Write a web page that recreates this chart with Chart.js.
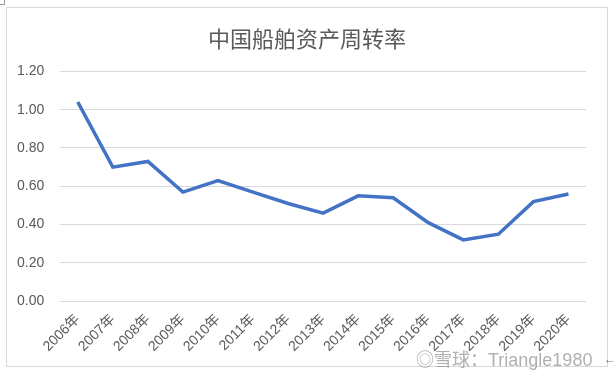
<!DOCTYPE html>
<html>
<head>
<meta charset="utf-8">
<script src="https://cdn.jsdelivr.net/npm/chart.js@4"></script>
<style>
  body { margin: 0; background: #fff; width: 615px; height: 378px; position: relative; overflow: hidden; }
  #box { position: absolute; left: 6px; top: 7px; width: 600px; height: 358px; border: 1px solid #d9d9d9; }
  #wm { position: absolute; left: 416px; top: 345px; font: 18px 'Liberation Sans', 'Noto Sans CJK SC', sans-serif; color: rgba(150,150,150,0.75); white-space: nowrap; }
  #arrow { position: absolute; left: 604px; top: 352px; font: 12px 'Liberation Sans', sans-serif; color: #777; }
  #mark { position: absolute; left: 0; top: 0; width: 4px; height: 4px; border-right: 1px solid #999; border-bottom: 1px solid #999; }
</style>
</head>
<body>
<div id="mark"></div>
<div id="box"><canvas id="c"></canvas></div>
<div id="wm">◎雪球：Triangle1980</div>
<div id="arrow">←</div>
<script>
const years = ['2006年','2007年','2008年','2009年','2010年','2011年','2012年','2013年','2014年','2015年','2016年','2017年','2018年','2019年','2020年'];
const turnover = [1.04, 0.70, 0.73, 0.57, 0.63, 0.57, 0.51, 0.46, 0.55, 0.54, 0.41, 0.32, 0.35, 0.52, 0.56];
const yTicks = [0, 0.2, 0.4, 0.6, 0.8, 1.0, 1.2];

const font = "'Liberation Sans', 'Noto Sans CJK SC', sans-serif";
const ctx = document.getElementById('c').getContext('2d');
new Chart(ctx, {
    type: 'line',
    data: {
        labels: years,
        datasets: [{
            label: '中国船舶资产周转率',
            data: turnover,
            borderColor: '#4472C4',
            borderWidth: 3.5,
            pointRadius: 0,
            tension: 0,
            fill: false
        }]
    },
    options: {
        responsive: true,
        maintainAspectRatio: false,
        animation: false,
        layout: { padding: { left: 0, right: 0, top: 9, bottom: 9 } },
        plugins: {
            legend: { display: false },
            tooltip: { enabled: false },
            title: {
                display: true,
                text: '中国船舶资产周转率',
                color: '#595959',
                font: { family: "'Noto Sans CJK SC', sans-serif", size: 22, weight: 'normal' },
                padding: { top: 8, bottom: 20 }
            }
        },
        scales: {
            x: {
                offset: true,
                grid: { display: false },
                border: { display: false },
                afterFit: scale => { scale.paddingLeft = 0; scale.paddingRight = 21; },
                ticks: {
                    color: '#595959',
                    font: { family: font, size: 14 },
                    maxRotation: 45,
                    minRotation: 45,
                    padding: 2
                }
            },
            y: {
                min: 0,
                max: 1.2,
                afterBuildTicks: axis => { axis.ticks = yTicks.map(v => ({ value: v })); },
                afterFit: scale => { scale.width -= 6; },
                grid: { color: '#d9d9d9', drawTicks: false },
                border: { display: false },
                ticks: {
                    color: '#595959',
                    font: { family: font, size: 14 },
                    padding: 16,
                    callback: v => v.toFixed(2)
                }
            }
        }
    }
});
</script>
</body>
</html>
